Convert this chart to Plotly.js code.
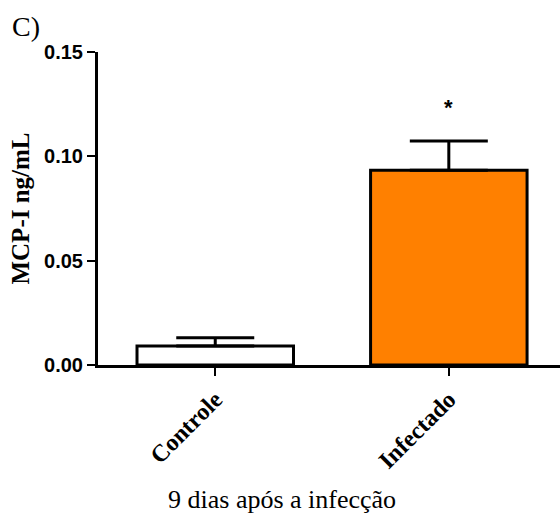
<!DOCTYPE html>
<html>
<head>
<meta charset="utf-8">
<script src="https://cdn.plot.ly/plotly-3.0.1.min.js"></script>
<style>
  html, body { margin: 0; padding: 0; background: #fff; }
  #chart { width: 560px; height: 518px; }
</style>
</head>
<body>
<div id="chart"></div>
<script>
// MCP-I concentration, 9 days after infection (mean + SEM)
const categories = ['Controle', 'Infectado'];
const means = [0.0091, 0.0933];
const sem = [0.0040, 0.0140];
const fills = ['#FFFFFF', '#FF8000'];
const significance = ['', '*'];
const yTickValues = [0, 0.05, 0.10, 0.15];
const yTickLabels = ['0.00', '0.05', '0.10', '0.15'];
const xTitle = '9 dias após a infecção';

const serif = 'Liberation Serif';
const sans = 'Liberation Sans';

const bars = {
  type: 'bar',
  x: categories,
  y: means,
  width: 0.67,
  marker: { color: fills, line: { color: '#000', width: 3 } },
  error_y: {
    type: 'data',
    array: sem,
    arrayminus: sem.map(() => 0),
    symmetric: false,
    color: '#000',
    thickness: 3,
    width: 39
  },
  hoverinfo: 'skip'
};

const stars = categories.map((c, i) => ({
  x: c,
  y: means[i] + sem[i],
  xref: 'x',
  yref: 'y',
  text: significance[i],
  showarrow: false,
  yanchor: 'bottom',
  yshift: 19,
  font: { family: sans, size: 22, weight: 700, color: '#000' }
})).filter(a => a.text);

const layout = {
  width: 560,
  height: 518,
  margin: { l: 98, r: 0, t: 52, b: 153 },
  paper_bgcolor: '#fff',
  plot_bgcolor: '#fff',
  showlegend: false,
  xaxis: {
    type: 'category',
    range: [-0.502, 1.476],
    showline: true,
    linecolor: '#000',
    linewidth: 3,
    ticks: 'outside',
    ticklen: 8,
    tickwidth: 2,
    tickcolor: '#000',
    tickangle: -45,
    tickfont: { family: serif, size: 24, weight: 700, color: '#000' },
    showgrid: false,
    zeroline: false,
    fixedrange: true
  },
  yaxis: {
    range: [0, 0.15],
    tickvals: yTickValues,
    ticktext: yTickLabels,
    showline: true,
    linecolor: '#000',
    linewidth: 3,
    ticks: 'outside',
    ticklen: 8,
    tickwidth: 2,
    tickcolor: '#000',
    tickfont: { family: sans, size: 20, weight: 700, color: '#000' },
    showgrid: false,
    zeroline: false,
    fixedrange: true,
    title: {
      text: 'MCP-I ng/mL',
      font: { family: serif, size: 25, weight: 700, color: '#000' },
      standoff: 8
    }
  },
  annotations: stars.concat([
    {
      // panel letter
      text: 'C)',
      xref: 'paper', yref: 'paper',
      x: -0.19, y: 1.0,
      xanchor: 'left', yanchor: 'bottom',
      yshift: 8,
      showarrow: false,
      font: { family: serif, size: 28, color: '#000' }
    },
    {
      // x-axis caption, centred under the whole figure
      text: xTitle,
      xref: 'paper', yref: 'paper',
      x: 0.398, y: -0.431,
      xanchor: 'center', yanchor: 'middle',
      showarrow: false,
      font: { family: serif, size: 26, color: '#000' }
    }
  ])
};

Plotly.newPlot('chart', [bars], layout, { displayModeBar: false, staticPlot: true });
</script>
</body>
</html>
